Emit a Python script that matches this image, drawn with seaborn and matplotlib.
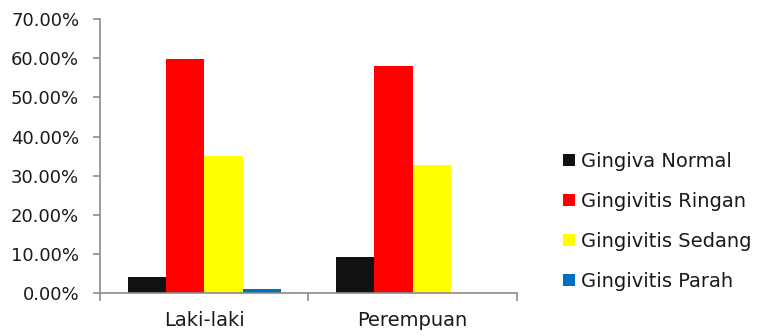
import matplotlib
matplotlib.use("Agg")
import matplotlib.pyplot as plt
import matplotlib.ticker as mticker
import pandas as pd
import seaborn as sns

categories = ["Laki-laki", "Perempuan"]
series = ["Gingiva Normal", "Gingivitis Ringan", "Gingivitis Sedang", "Gingivitis Parah"]
values = {
    "Gingiva Normal": [4.1, 9.3],
    "Gingivitis Ringan": [59.8, 58.1],
    "Gingivitis Sedang": [35.1, 32.6],
    "Gingivitis Parah": [1.0, 0.0],
}
colors = ["#111111", "#FF0000", "#FFFF00", "#0070C0"]
yticks = [0, 10, 20, 30, 40, 50, 60, 70]

rows = []
for s in series:
    for c, v in zip(categories, values[s]):
        rows.append({"Jenis Kelamin": c, "Status": s, "Persen": v})
df = pd.DataFrame(rows)

sns.set_style("white")
plt.rcParams["font.family"] = ["DejaVu Sans"]

fig = plt.figure(figsize=(7.6, 3.36), dpi=100)
ax = fig.add_axes([0.1316, 0.128, 0.5484, 0.815])

sns.barplot(data=df, x="Jenis Kelamin", y="Persen", hue="Status",
            hue_order=series, order=categories, palette=colors,
            width=0.735, saturation=1, errorbar=None, ax=ax, linewidth=0)

ax.set_ylim(0, 70)
ax.set_xlim(-0.5, 1.5)
ax.set_yticks(yticks)
ax.yaxis.set_major_formatter(mticker.FuncFormatter(lambda v, _: f"{v:.2f}%"))
ax.set_xlabel("")
ax.set_ylabel("")

grey = "#8c8c8c"
for side in ["top", "right"]:
    ax.spines[side].set_visible(False)
for side in ["left", "bottom"]:
    ax.spines[side].set_color(grey)
    ax.spines[side].set_linewidth(1.2)

ax.tick_params(axis="y", which="major", direction="out", length=5, width=1.2,
               color=grey, labelsize=13, labelcolor="#1a1a1a", pad=10, left=True)
ax.xaxis.set_minor_locator(mticker.FixedLocator([-0.5, 0.5, 1.5]))
ax.tick_params(axis="x", which="major", length=0, labelsize=14,
               labelcolor="#1a1a1a", pad=13)
ax.tick_params(axis="x", which="minor", direction="out", length=6, width=1.2,
               color=grey, bottom=True)

ax.legend(loc="center left", bbox_to_anchor=(1.07, 0.262), frameon=False,
          fontsize=14, handlelength=0.6, handleheight=0.6, handletextpad=0.3,
          labelspacing=1.08, labelcolor="#1a1a1a")

fig.savefig("out.png", dpi=100)
